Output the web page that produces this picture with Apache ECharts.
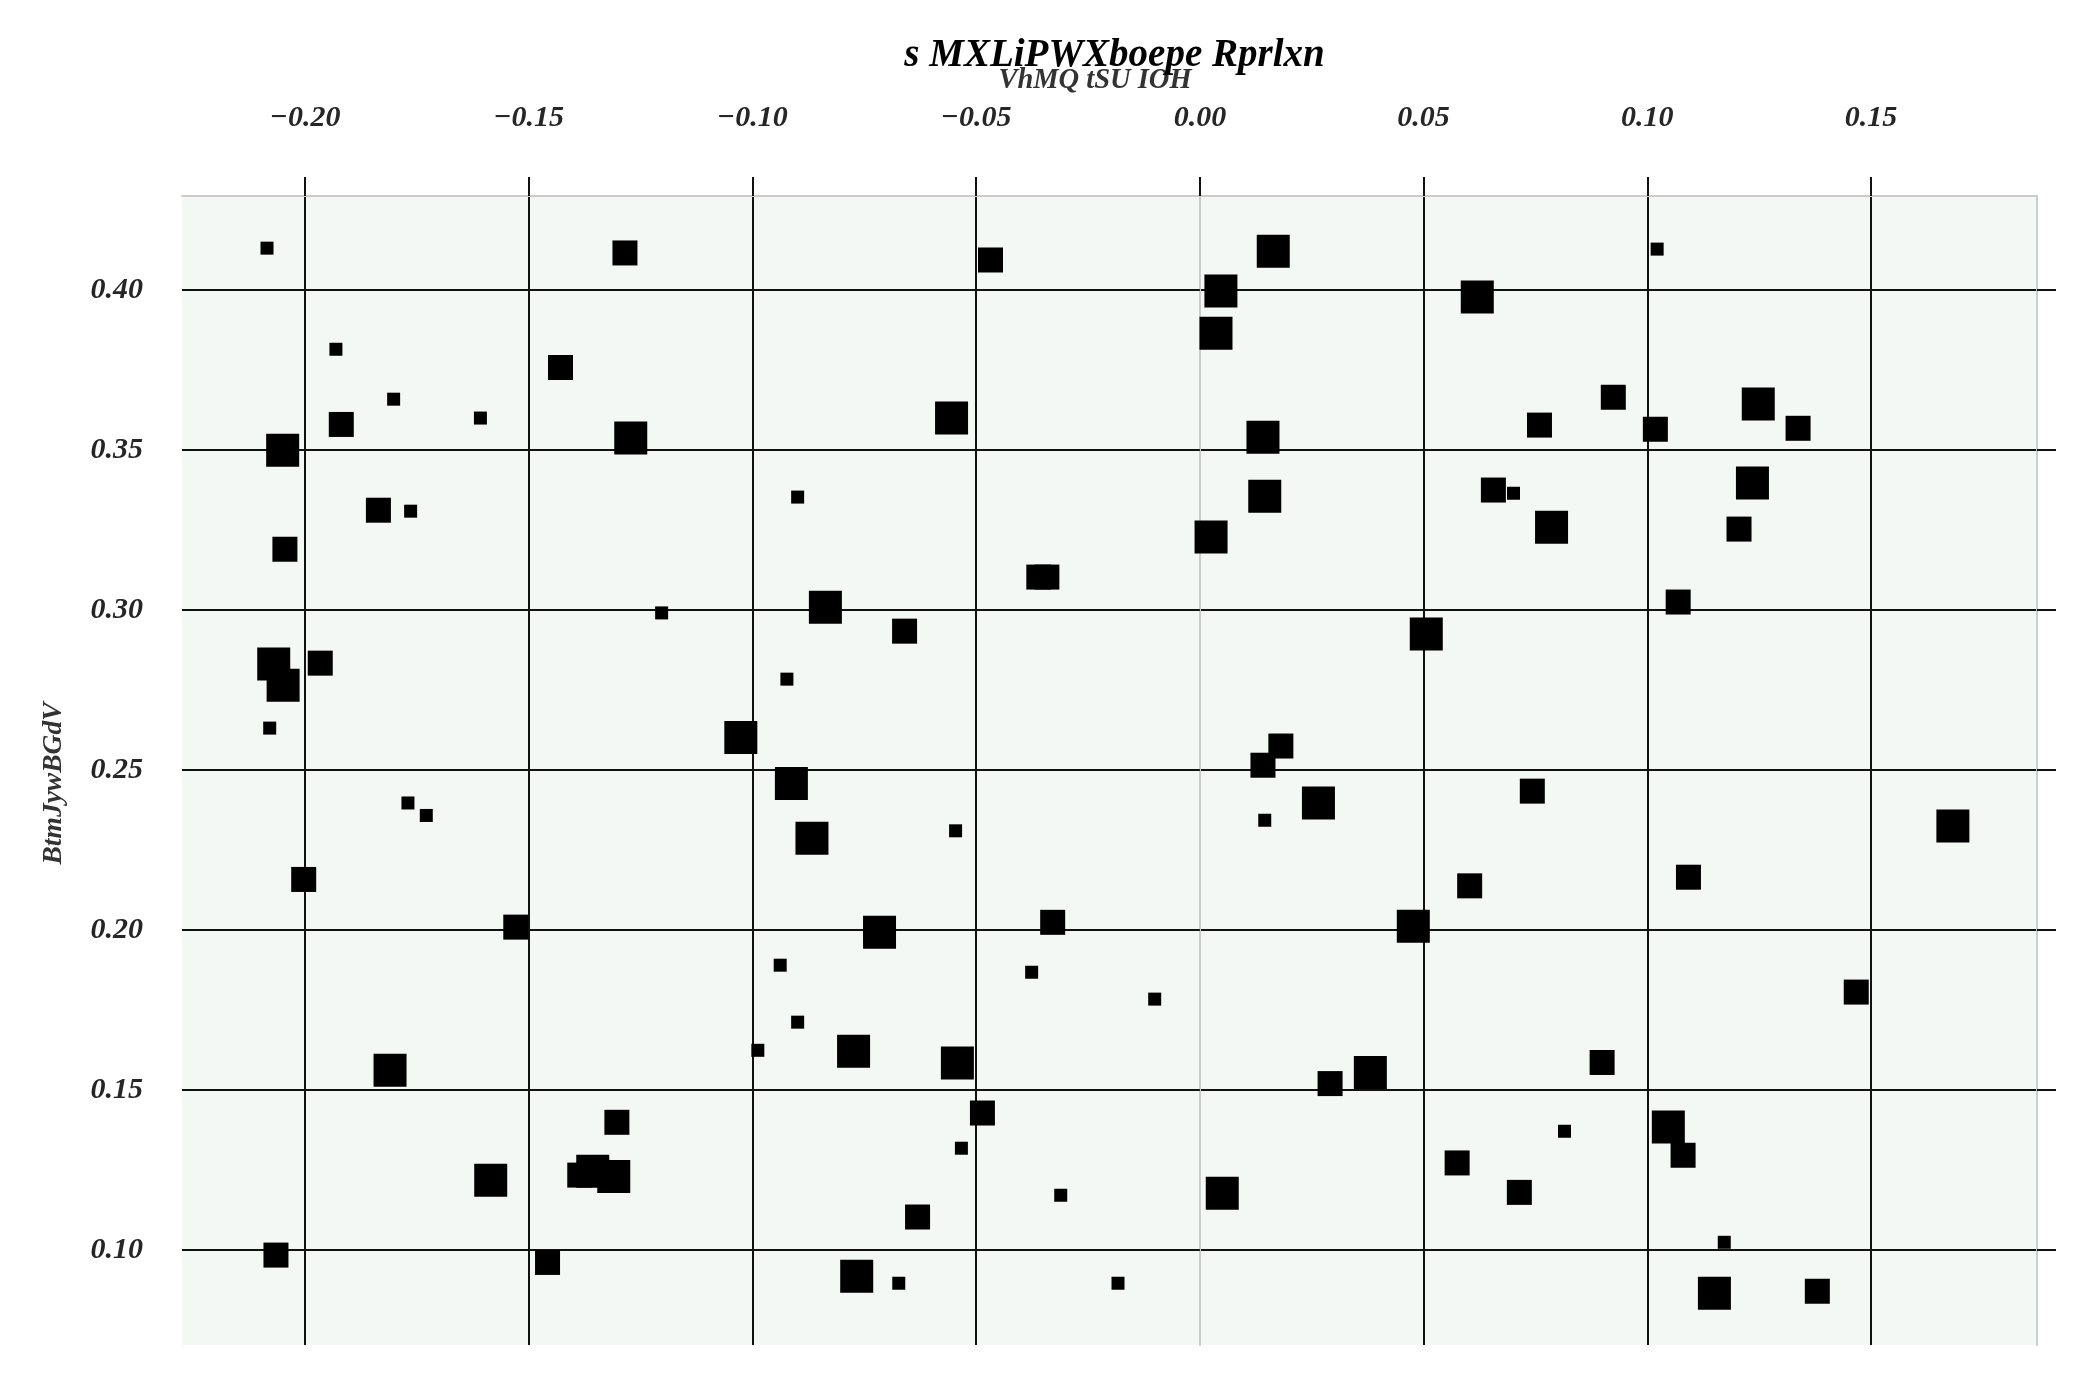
<!DOCTYPE html>
<html>
<head>
<meta charset="utf-8">
<script src="https://cdn.jsdelivr.net/npm/echarts@6/dist/echarts.min.js"></script>
<style>
  html, body { margin: 0; padding: 0; background: #ffffff; }
  #chart { width: 2079px; height: 1386px; }
</style>
</head>
<body>
<div id="chart"></div>
<script>
const titleText = 's MXLiPWXboepe Rprlxn';
const xAxisName = 'VhMQ tSU IOH';
const yAxisName = 'BtmJywBGdV';

const xTicks = [-0.20, -0.15, -0.10, -0.05, 0.00, 0.05, 0.10, 0.15];
const yTicks = [0.10, 0.15, 0.20, 0.25, 0.30, 0.35, 0.40];

const xValues = [
  -0.2085, -0.1285, -0.1931, -0.1429, -0.1802, -0.1919, -0.1608, -0.2050, -0.1272, -0.1836,
  -0.1764, -0.0899, -0.2045, -0.1203, -0.2070, -0.2049, -0.1966, -0.2079, -0.0923, -0.1026,
  -0.0468, 0.0164, 0.0047, 0.0036, -0.0555, 0.0141, 0.0145, 0.0025, -0.0360, -0.0342,
  -0.0837, -0.0660, 0.0181, 0.0141, 0.1022, 0.0620, 0.0924, 0.0759, 0.1018, 0.1248,
  0.1337, 0.0656, 0.0701, 0.0786, 0.1235, 0.1205, 0.1069, 0.0506, -0.1770, -0.1729,
  -0.2003, -0.1529, -0.1810, -0.1303, -0.1585, -0.1357, -0.1386, -0.1310, -0.2065, -0.1458,
  -0.0938, -0.0988, -0.0899, -0.0913, -0.0546, -0.0867, 0.0265, 0.0145, -0.0716, -0.0329,
  0.0477, -0.0376, -0.0101, -0.0774, -0.0542, 0.0291, 0.0381, -0.0486, -0.0533, -0.0631,
  -0.0311, 0.0050, -0.0767, -0.0673, -0.0183, 0.0743, 0.1683, 0.0603, 0.1092, 0.1467,
  0.0899, 0.0815, 0.0575, 0.0714, 0.1047, 0.1080, 0.1172, 0.1150, 0.1380
];
const yValues = [
  0.4131, 0.4116, 0.3815, 0.3758, 0.3659, 0.3580, 0.3600, 0.3499, 0.3538, 0.3312,
  0.3309, 0.3353, 0.3190, 0.2991, 0.2831, 0.2765, 0.2834, 0.2631, 0.2784, 0.2602,
  0.4094, 0.4121, 0.3997, 0.3865, 0.3600, 0.3540, 0.3356, 0.3228, 0.3103, 0.3103,
  0.3009, 0.2934, 0.2575, 0.2515, 0.4128, 0.3978, 0.3665, 0.3578, 0.3565, 0.3644,
  0.3568, 0.3375, 0.3365, 0.3259, 0.3397, 0.3253, 0.3025, 0.2925, 0.2397, 0.2358,
  0.2158, 0.2009, 0.1562, 0.1399, 0.1218, 0.1246, 0.1234, 0.1230, 0.0984, 0.0961,
  0.1890, 0.1624, 0.1712, 0.2458, 0.2310, 0.2287, 0.2397, 0.2343, 0.1993, 0.2024,
  0.2012, 0.1868, 0.1784, 0.1621, 0.1584, 0.1520, 0.1555, 0.1428, 0.1318, 0.1103,
  0.1171, 0.1177, 0.0918, 0.0896, 0.0896, 0.2434, 0.2325, 0.2138, 0.2165, 0.1806,
  0.1586, 0.1371, 0.1272, 0.1180, 0.1384, 0.1296, 0.1024, 0.0865, 0.0871
];
// magnitude class of each point (1 = small, 2 = medium, 3 = large)
const magnitude = [
  1, 2, 1, 2, 1, 2, 1, 3, 3, 2,
  1, 1, 2, 1, 3, 3, 2, 1, 1, 3,
  2, 3, 3, 3, 3, 3, 3, 3, 2, 2,
  3, 2, 2, 2, 1, 3, 2, 2, 2, 3,
  2, 2, 1, 3, 3, 2, 2, 3, 1, 1,
  2, 2, 3, 2, 3, 3, 2, 3, 2, 2,
  1, 1, 1, 3, 1, 3, 3, 1, 3, 2,
  3, 1, 1, 3, 3, 2, 3, 2, 1, 2,
  1, 3, 3, 1, 1, 2, 3, 2, 2, 2,
  2, 1, 2, 2, 3, 2, 1, 3, 2
];

const sizeByMagnitude = { 1: 13, 2: 25, 3: 33 };
const FONT = '"Liberation Serif", "Times New Roman", serif';

const points = xValues.map((x, i) => [x, yValues[i], magnitude[i]]);

function fmt(v) {
  const r = Math.round(v * 100) / 100;
  if (r < 0) return '\u2212' + Math.abs(r).toFixed(2);
  return Math.abs(r).toFixed(2);
}

const chart = echarts.init(document.getElementById('chart'), null, { renderer: 'canvas' });

const tickStyle = { color: '#111111', width: 2 };
const gridLineStyle = { color: '#111111', width: 2 };
const spineStyle = { color: '#cccccc', width: 2 };

chart.setOption({
  animation: false,
  backgroundColor: '#ffffff',
  title: {
    text: titleText,
    left: 1109.5,
    top: 31,
    textAlign: 'center',
    textStyle: {
      fontFamily: FONT, fontSize: 39, fontWeight: 'bold', fontStyle: 'italic',
      color: '#000000', lineHeight: 39
    }
  },
  grid: {
    left: 182, top: 196, right: 42, bottom: 41,
    show: true, backgroundColor: '#f4f8f5', borderWidth: 0
  },
  xAxis: {
    type: 'value',
    position: 'top',
    min: -0.2275,
    max: 0.1871,
    name: xAxisName,
    nameLocation: 'middle',
    nameGap: 101,
    nameTextStyle: {
      fontFamily: FONT, fontSize: 28.5, fontWeight: 'bold', fontStyle: 'italic',
      color: '#333333', lineHeight: 28, padding: [0, 29, 0, 0]
    },
    axisLine: { show: true, lineStyle: spineStyle },
    axisTick: { show: true, length: 19, lineStyle: tickStyle, customValues: xTicks },
    axisLabel: {
      customValues: xTicks,
      formatter: fmt,
      margin: 63,
      fontFamily: FONT, fontSize: 30, fontWeight: 'bold', fontStyle: 'italic',
      color: '#262626', lineHeight: 30
    },
    splitLine: { show: true, lineStyle: gridLineStyle }
  },
  yAxis: [
    {
      type: 'value',
      position: 'left',
      min: 0.0703,
      max: 0.4294,
      name: yAxisName,
      nameLocation: 'middle',
      nameGap: 114,
      nameTextStyle: {
        fontFamily: FONT, fontSize: 27.5, fontWeight: 'bold', fontStyle: 'italic',
        color: '#333333', lineHeight: 28, padding: [0, 26, 0, 0]
      },
      axisLine: { show: true, lineStyle: spineStyle },
      axisTick: { show: true, length: 19, lineStyle: tickStyle, customValues: yTicks },
      axisLabel: {
        customValues: yTicks,
        formatter: fmt,
        margin: 39,
        fontFamily: FONT, fontSize: 30, fontWeight: 'bold', fontStyle: 'italic',
        color: '#262626', lineHeight: 30
      },
      splitLine: { show: true, lineStyle: gridLineStyle }
    },
    {
      type: 'value',
      position: 'right',
      min: 0.0703,
      max: 0.4294,
      axisLine: { show: true, lineStyle: spineStyle },
      axisTick: { show: true, length: 19, lineStyle: tickStyle, customValues: yTicks },
      axisLabel: { show: false },
      splitLine: { show: false }
    }
  ],
  series: [{
    type: 'scatter',
    xAxisIndex: 0,
    yAxisIndex: 0,
    symbol: 'rect',
    symbolSize: (val) => sizeByMagnitude[val[2]],
    itemStyle: { color: '#000000', opacity: 1 },
    data: points,
    z: 5
  }]
});
</script>
</body>
</html>
